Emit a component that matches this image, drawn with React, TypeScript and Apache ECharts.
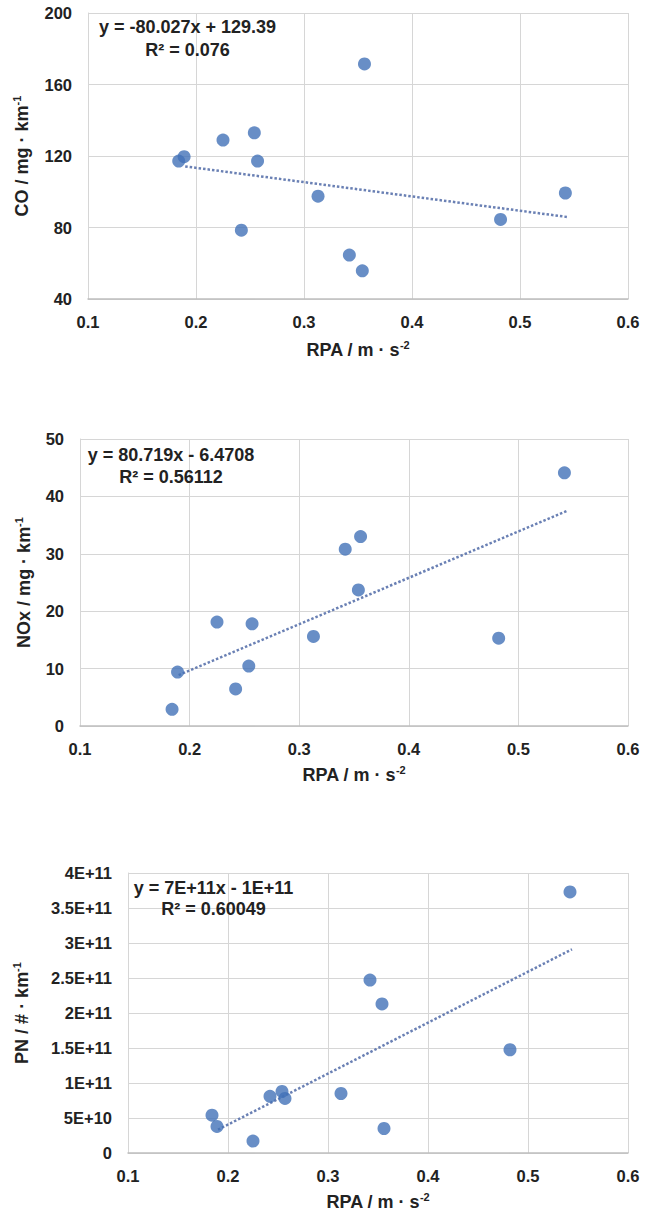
import React, { useEffect, useRef } from 'react';
import * as echarts from 'echarts';

// ---- data ----
const rpa = [0.184, 0.189, 0.225, 0.242, 0.254, 0.257, 0.313, 0.342, 0.354, 0.356, 0.482, 0.542];
const co = [117.2, 119.6, 128.9, 78.5, 133.0, 117.2, 97.5, 64.6, 55.8, 171.5, 84.5, 99.3];
const nox = [2.9, 9.4, 18.1, 6.45, 10.45, 17.8, 15.6, 30.8, 23.7, 33.0, 15.3, 44.1];
const pn = [0.54e11, 0.38e11, 0.17e11, 0.81e11, 0.88e11, 0.78e11, 0.85e11, 2.47e11, 2.13e11, 0.35e11, 1.475e11, 3.73e11];

const xTickLabels = ['0.1', '0.2', '0.3', '0.4', '0.5', '0.6'];
const coTickLabels = ['40', '80', '120', '160', '200'];
const noxTickLabels = ['0', '10', '20', '30', '40', '50'];
const pnTickLabels = ['0', '5E+10', '1E+11', '1.5E+11', '2E+11', '2.5E+11', '3E+11', '3.5E+11', '4E+11'];

// trendline coefficients [slope, intercept] and x extent
const coTrend = [-80.027, 129.39];
const noxTrend = [80.719, -6.4708];
const pnTrend = [7.28e11, -1.05e11];
const trendRange = [0.19, 0.544];

const coEq = ['y = -80.027x + 129.39', 'R² = 0.076'];
const noxEq = ['y = 80.719x - 6.4708', 'R² = 0.56112'];
const pnEq = ['y = 7E+11x - 1E+11', 'R² = 0.60049'];

const FONT = '"Liberation Sans", Arial, Helvetica, sans-serif';
const TEXT = '#222222';
const DOT = '#4272b8';

const panels = [
  {
    grid: { left: 88, top: 13, width: 540, height: 286 },
    y: co, yMin: 40, yMax: 200, yInt: 40, yLabels: coTickLabels,
    yName: 'CO / mg · km', yGap: 55, xGap: 40, trend: coTrend, eq: coEq,
    eqX: 187.5, eqY: [27, 49.5],
  },
  {
    grid: { left: 80, top: 439, width: 548, height: 287 },
    y: nox, yMin: 0, yMax: 50, yInt: 10, yLabels: noxTickLabels,
    yName: 'NOx / mg · km', yGap: 45, xGap: 38, trend: noxTrend, eq: noxEq,
    eqX: 171, eqY: [455, 477],
  },
  {
    grid: { left: 128, top: 873, width: 500, height: 280 },
    y: pn, yMin: 0, yMax: 4e11, yInt: 5e10, yLabels: pnTickLabels,
    yName: 'PN / # · km', yGap: 95, xGap: 38, trend: pnTrend, eq: pnEq,
    eqX: 213.5, eqY: [888, 909],
  },
];

function buildOption() {
  const grids: any[] = [];
  const xAxes: any[] = [];
  const yAxes: any[] = [];
  const series: any[] = [];
  const graphics: any[] = [];
  const rich = {
    a: { fontFamily: FONT, fontWeight: 'bold', fontSize: 18, color: TEXT, lineHeight: 22 },
    s: { fontFamily: FONT, fontWeight: 'bold', fontSize: 11, color: TEXT, lineHeight: 12, verticalAlign: 'top' },
  };
  panels.forEach((p, i) => {
    grids.push({ ...p.grid, containLabel: false });
    xAxes.push({
      type: 'value', gridIndex: i, min: 0.1, max: 0.6, interval: 0.1,
      name: '{a|RPA / m · s}{s|-2}', nameLocation: 'middle', nameGap: p.xGap,
      nameTextStyle: { rich },
      axisLine: { show: true, lineStyle: { color: '#bfbfbf', width: 1.5 } },
      axisTick: { show: false },
      axisLabel: {
        margin: 14, fontFamily: FONT, fontWeight: 'bold', fontSize: 16.5, color: TEXT,
        formatter: (v: number) => xTickLabels[Math.round((v - 0.1) / 0.1)] ?? '',
      },
      splitLine: { show: true, lineStyle: { color: '#d6d6d6', width: 1 } },
    });
    yAxes.push({
      type: 'value', gridIndex: i, min: p.yMin, max: p.yMax, interval: p.yInt,
      name: '{a|' + p.yName + '}{s|-1}', nameLocation: 'middle', nameGap: p.yGap,
      nameTextStyle: { rich },
      axisLine: { show: true, lineStyle: { color: '#d6d6d6', width: 1 } },
      axisTick: { show: false },
      axisLabel: {
        margin: 16, fontFamily: FONT, fontWeight: 'bold', fontSize: 16.5, color: TEXT,
        formatter: (v: number) => p.yLabels[Math.round((v - p.yMin) / p.yInt)] ?? '',
      },
      splitLine: { show: true, lineStyle: { color: '#d6d6d6', width: 1 } },
    });
    series.push({
      type: 'line', xAxisIndex: i, yAxisIndex: i, silent: true,
      showSymbol: false, symbol: 'none',
      lineStyle: { color: '#6a80b4', width: 2.5, type: [2.5, 2] },
      data: trendRange.map((x) => [x, p.trend[0] * x + p.trend[1]]),
      z: 2,
    });
    series.push({
      type: 'scatter', xAxisIndex: i, yAxisIndex: i, silent: true,
      symbol: 'circle', symbolSize: 13,
      itemStyle: { color: DOT },
      data: rpa.map((x, k) => [x, p.y[k]]),
      z: 3,
    });
    p.eq.forEach((t, k) => {
      graphics.push({
        type: 'text', x: p.eqX, y: p.eqY[k], z: 10,
        style: {
          text: t, fontFamily: FONT, fontWeight: 'bold', fontSize: 18, fill: TEXT,
          align: 'center', verticalAlign: 'middle',
        },
      });
    });
  });
  return {
    animation: false,
    backgroundColor: '#ffffff',
    grid: grids,
    xAxis: xAxes,
    yAxis: yAxes,
    series,
    graphic: graphics,
  };
}

export default function App() {
  const ref = useRef<HTMLDivElement>(null);
  useEffect(() => {
    const chart = echarts.init(ref.current!, null, { renderer: 'svg' });
    chart.setOption(buildOption() as any);
    return () => chart.dispose();
  }, []);
  return (
    <div
      ref={ref}
      style={{ position: 'absolute', left: 0, top: 0, width: 657, height: 1215, background: '#fff' }}
    />
  );
}
